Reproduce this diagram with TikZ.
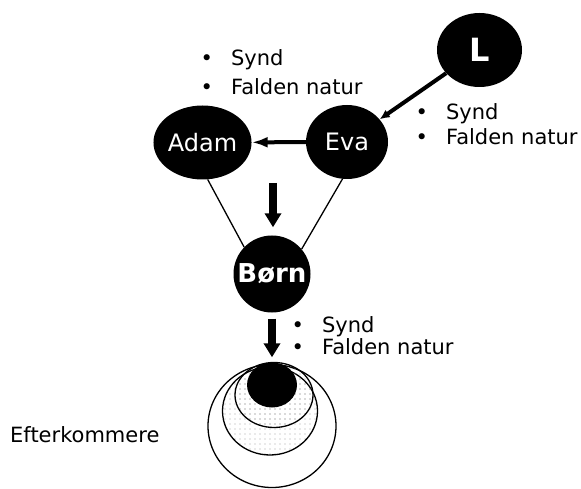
\documentclass[tikz,border=0pt]{standalone}
\usepackage{fontspec}
\setmainfont{DejaVu Sans}
\usetikzlibrary{arrows.meta,shapes.geometric,patterns.meta}
\newcommand{\punkt}{\textbullet\hspace{18pt}}

\begin{document}
\begin{tikzpicture}[x=1pt,y=-1pt,>=Latex,
  person/.style={ellipse,fill=black,text=white,inner sep=0pt,
    minimum width=82pt,minimum height=74pt,font=\fontsize{24}{28}\selectfont},
  liste/.style={align=left,inner sep=0pt,anchor=west},
  pil/.style={line width=8pt,-{Triangle[length=14pt,width=16pt]}},
  tynd/.style={line width=1.3pt},
  prikket/.style={pattern={Dots[radius=0.7pt,distance=5pt]},pattern color=gray!70}]
  \useasboundingbox (0,0) rectangle (581,489);
  % personer
  \node[person,minimum width=85pt,font=\bfseries\fontsize{32}{36}\selectfont] (L) at (479.5,50) {L};
  \node[person] (Eva) at (347,142) {Eva};
  \node[person] (Adam) at (202.5,142.5) {Adam};
  \node[person,circle,minimum size=77pt,font=\bfseries\fontsize{26}{30}\selectfont] (Boern) at (272,274) {Børn};
  % efterkommere
  \draw[tynd,fill=white] (272,426) ellipse [x radius=64pt,y radius=61.5pt];
  \draw[tynd,prikket] (270,411) ellipse [x radius=47.5pt,y radius=44pt];
  \draw[tynd,prikket] (274,395) ellipse [x radius=39pt,y radius=32.5pt];
  \node[ellipse,fill=black,minimum width=50pt,minimum height=45pt,inner sep=0pt] (kjerne) at (272,385) {};
  \node[anchor=west,inner sep=0pt,font=\fontsize{21}{25}\selectfont] (efter) at (10,435) {Efterkommere};
  % forbindelser
  \draw[line width=4pt,-{Latex[length=10pt,width=9pt]}] (L) -- (Eva);
  \draw[line width=4pt,-{Latex[length=16pt,width=11pt]}] (Eva) -- (Adam);
  \draw[tynd] (Adam.-82) -- (Boern.136);
  \draw[tynd] (Eva.-97) -- (Boern.40);
  \coordinate (pilstart) at (273,183);
  \draw[pil,shorten >=8pt] (pilstart) -- (pilstart |- Boern.north);
  \draw[pil,shorten <=6pt,shorten >=5pt] (Boern) -- (kjerne);
  % lister
  \node[liste,font=\fontsize{21}{29}\selectfont] (liste1) at (200.5,72.5) {\punkt Synd\\\punkt Falden natur};
  \node[liste,font=\fontsize{21}{25}\selectfont] (liste2) at (415.5,124.5) {\punkt Synd\\\punkt Falden natur};
  \node[liste,font=\fontsize{21}{22}\selectfont] (liste3) at (291.5,336) {\punkt Synd\\\punkt Falden natur};
\end{tikzpicture}
\end{document}
